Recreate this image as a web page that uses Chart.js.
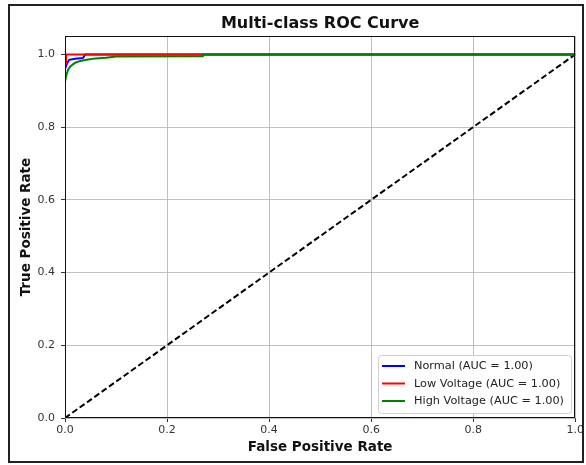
<!DOCTYPE html>
<html>
<head>
<meta charset="utf-8">
<script src="https://cdn.jsdelivr.net/npm/chart.js@4.4.1/dist/chart.umd.min.js"></script>
<style>
  html, body { margin: 0; padding: 0; background: #fff; }
  #wrap { width: 586px; height: 465px; }
</style>
</head>
<body>
<div id="wrap"><canvas id="roc" width="586" height="465"></canvas></div>
<script>
// --- DATA ---
const classNames = ["Normal", "Low Voltage", "High Voltage"];
const aucValues = [1.00, 1.00, 1.00];
const lineColors = ["#0000ff", "#ff0000", "#008000"];

const normalFpr = [0, 0, 0.004, 0.008, 0.02, 0.035, 0.04, 1.0];
const normalTpr = [0, 0.96, 0.975, 0.985, 0.988, 0.99, 1.0, 1.0];

const lowFpr = [0, 0, 0.002, 0.002, 1.0];
const lowTpr = [0, 0.975, 0.975, 1.0, 1.0];

const highFpr = [0, 0, 0.003, 0.006, 0.01, 0.015, 0.02, 0.03, 0.045, 0.06, 0.08, 0.1, 0.27, 0.27, 1.0];
const highTpr = [0, 0.925, 0.945, 0.958, 0.966, 0.972, 0.977, 0.982, 0.986, 0.989, 0.991, 0.994, 0.995, 1.0, 1.0];

const chanceX = [0, 1];
const chanceY = [0, 1];

const xTicks = [0, 0.2, 0.4, 0.6, 0.8, 1.0];
const yTicks = [0, 0.2, 0.4, 0.6, 0.8, 1.0];

const FONT = "'DejaVu Sans', sans-serif";

function toPoints(xs, ys) { return xs.map((x, i) => ({ x: x, y: ys[i] })); }

// white page + outer frame
const framePlugin = {
    id: 'frame',
    beforeDraw(chart) {
        const c = chart.ctx;
        c.save();
        c.fillStyle = '#fff';
        c.fillRect(0, 0, chart.width, chart.height);
        c.restore();
    },
    afterDraw(chart) {
        const c = chart.ctx;
        c.save();
        c.strokeStyle = '#222';
        c.lineWidth = 2;
        c.strokeRect(9, 5, 574, 457);
        c.restore();
    }
};

// axes box (all four spines) + legend in lower right
const boxLegendPlugin = {
    id: 'boxLegend',
    afterDatasetsDraw(chart) {
        const c = chart.ctx;
        const a = chart.chartArea;
        c.save();
        c.strokeStyle = '#111';
        c.lineWidth = 1;
        c.strokeRect(Math.round(a.left) + 0.5, Math.round(a.top) + 0.5,
                     Math.round(a.right - a.left) - 1, Math.round(a.bottom - a.top) - 1);

        // legend
        const bx = 378, by = 355, bw = 193, bh = 58;
        c.beginPath();
        c.roundRect(bx + 0.5, by + 0.5, bw, bh, 3);
        c.fillStyle = 'rgba(255,255,255,0.85)';
        c.fill();
        c.strokeStyle = '#d0d0d0';
        c.stroke();
        c.font = '11.3px ' + FONT;
        c.textBaseline = 'middle';
        c.textAlign = 'left';
        classNames.forEach((name, i) => {
            const y = by + 11 + i * 17.5;
            c.beginPath();
            c.moveTo(bx + 4, y);
            c.lineTo(bx + 27, y);
            c.strokeStyle = lineColors[i];
            c.lineWidth = 2;
            c.stroke();
            c.fillStyle = '#222';
            c.fillText(name + ' (AUC = ' + aucValues[i].toFixed(2) + ')', bx + 36, y + 0.5);
        });
        c.restore();
    }
};

const curves = [
    [normalFpr, normalTpr],
    [lowFpr, lowTpr],
    [highFpr, highTpr]
];

const datasets = curves.map((cv, i) => ({
    label: classNames[i],
    data: toPoints(cv[0], cv[1]),
    borderColor: lineColors[i],
    borderWidth: 2,
    pointRadius: 0,
    tension: 0,
    fill: false,
    order: 3 - i
}));
datasets.push({
    label: 'chance',
    data: toPoints(chanceX, chanceY),
    borderColor: '#000',
    borderWidth: 2,
    borderDash: [6, 3],
    pointRadius: 0,
    fill: false,
    order: 4
});

new Chart(document.getElementById('roc'), {
    type: 'line',
    data: { datasets: datasets },
    plugins: [framePlugin, boxLegendPlugin],
    options: {
        responsive: false,
        animation: false,
        devicePixelRatio: 1,
        layout: { padding: { left: 10, right: 10, top: 0, bottom: 3 } },
        plugins: {
            legend: { display: false },
            tooltip: { enabled: false },
            title: {
                display: true,
                text: 'Multi-class ROC Curve',
                fullSize: false,
                color: '#111',
                font: { family: FONT, size: 16, weight: 'bold' },
                padding: { top: 14, bottom: 3 }
            }
        },
        scales: {
            x: {
                type: 'linear',
                min: 0, max: 1,
                afterFit: s => { s.height = 44; },
                afterBuildTicks: s => { s.ticks = xTicks.map(v => ({ value: v })); },
                ticks: {
                    color: '#333',
                    font: { family: FONT, size: 11 },
                    padding: 2,
                    maxRotation: 0,
                    callback: v => v.toFixed(1)
                },
                grid: { color: 'rgba(176,176,176,0.8)', lineWidth: 1, tickLength: 4, tickColor: '#333' },
                border: { display: false },
                title: {
                    display: true,
                    text: 'False Positive Rate',
                    color: '#111',
                    font: { family: FONT, size: 13.5, weight: 'bold' },
                    padding: { top: 2, bottom: 6 }
                }
            },
            y: {
                type: 'linear',
                min: 0, max: 1.05,
                afterFit: s => { s.width = 55; },
                afterBuildTicks: s => { s.ticks = yTicks.map(v => ({ value: v })); },
                ticks: {
                    color: '#333',
                    font: { family: FONT, size: 11 },
                    padding: 6,
                    callback: v => v.toFixed(1)
                },
                grid: { color: 'rgba(176,176,176,0.8)', lineWidth: 1, tickLength: 4, tickColor: '#333' },
                border: { display: false },
                title: {
                    display: true,
                    text: 'True Positive Rate',
                    color: '#111',
                    font: { family: FONT, size: 13.5, weight: 'bold' },
                    padding: { top: 8, bottom: 2 }
                }
            }
        }
    }
});
</script>
</body>
</html>
